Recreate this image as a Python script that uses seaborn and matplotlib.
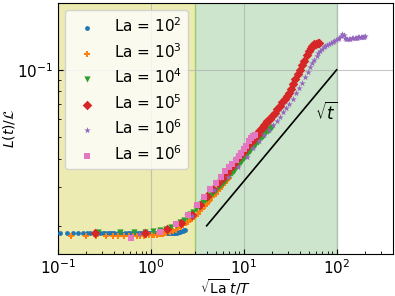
import numpy as np
import pandas as pd
import matplotlib
matplotlib.use("Agg")
import matplotlib.pyplot as plt
import seaborn as sns
from matplotlib.ticker import NullFormatter

# ---------------- data ----------------
labels = [r'La = $10^2$', r'La = $10^3$', r'La = $10^4$',
          r'La = $10^5$', r'La = $10^6$', r'La = $10^6$']

t_la2 = [0.105, 0.125, 0.145, 0.165, 0.185, 0.205, 0.225, 0.245, 0.265, 0.285,
         0.305, 0.325, 0.345, 0.365, 0.385, 0.405, 0.445, 0.485, 0.525, 0.565,
         0.605, 0.645, 0.685, 0.725, 0.765, 0.805, 0.845, 0.885, 0.925, 0.965,
         1.005, 1.065, 1.125, 1.185, 1.245, 1.305, 1.365, 1.425, 1.485, 1.545,
         1.605, 1.665, 1.725, 1.785, 1.845, 1.905, 1.965, 2.025, 2.085, 2.145,
         2.205, 2.265, 2.325]
L_la2 = [0.0185, 0.0185, 0.0185, 0.0185, 0.0185, 0.0185, 0.0185, 0.0185, 0.0185, 0.0185,
         0.0185, 0.0185, 0.0185, 0.0185, 0.0185, 0.0185, 0.0185, 0.0185, 0.0185, 0.0185,
         0.0185, 0.0185, 0.0185, 0.0185, 0.0185, 0.0185, 0.0185, 0.0185, 0.0185, 0.0185,
         0.0185, 0.0185, 0.0185, 0.0185, 0.0185, 0.0185, 0.0185, 0.0185, 0.0185, 0.0185,
         0.0185, 0.0185, 0.0185, 0.0186, 0.0186, 0.0186, 0.0187, 0.0187, 0.0188, 0.0189,
         0.0190, 0.0191, 0.0192]

t_la3 = [0.14, 0.20, 0.26, 0.33, 0.39, 0.45, 0.52, 0.58, 0.64, 0.71,
         0.77, 0.84, 0.90, 0.96, 1.03, 1.09, 1.16, 1.22, 1.28, 1.35,
         1.41, 1.48, 1.60, 1.73, 1.86, 1.99, 2.12, 2.25, 2.38, 2.50,
         2.63, 2.76, 2.89, 3.02, 3.20, 3.40, 3.60, 3.80, 4.00, 4.20,
         4.40, 4.60, 4.80, 5.00, 5.25, 5.50, 5.75, 6.00, 6.25, 6.50,
         6.75, 7.00]
L_la3 = [0.0180, 0.0180, 0.0180, 0.0180, 0.0180, 0.0180, 0.0180, 0.0180, 0.0180, 0.0180,
         0.0180, 0.0180, 0.0181, 0.0181, 0.0181, 0.0182, 0.0182, 0.0183, 0.0183, 0.0184,
         0.0185, 0.0186, 0.0188, 0.0190, 0.0192, 0.0195, 0.0198, 0.0201, 0.0205, 0.0208,
         0.0212, 0.0215, 0.0219, 0.0222, 0.0227, 0.0233, 0.0239, 0.0245, 0.0251, 0.0257,
         0.0262, 0.0268, 0.0274, 0.0279, 0.0286, 0.0292, 0.0299, 0.0305, 0.0311, 0.0317,
         0.0323, 0.0329]

t_la4 = [0.27, 0.47, 0.67, 0.87, 1.07, 1.27, 1.47, 1.67, 1.87, 2.07,
         2.27, 2.47, 2.67, 2.87, 3.07, 3.27, 3.47, 3.67, 3.87, 4.07,
         4.27, 4.47, 4.67, 4.87, 5.07, 5.40, 5.70, 6.00, 6.30, 6.60,
         6.90, 7.20, 7.50, 7.80, 8.10, 8.50, 8.90, 9.30, 9.70, 10.1,
         10.6, 11.1, 11.6, 12.1, 12.6, 13.1, 13.6, 14.1, 14.6, 15.1,
         15.6, 16.1, 16.6, 17.1, 17.6, 18.1, 18.6, 19.1, 19.6, 20.1]
L_la4 = [0.0187, 0.0187, 0.0187, 0.0188, 0.0189, 0.0191, 0.0194, 0.0197, 0.0202, 0.0207,
         0.0213, 0.0219, 0.0225, 0.0231, 0.0238, 0.0244, 0.0250, 0.0255, 0.0260, 0.0265,
         0.0270, 0.0275, 0.0280, 0.0285, 0.0290, 0.0297, 0.0305, 0.0312, 0.0319, 0.0326,
         0.0333, 0.0340, 0.0346, 0.0353, 0.0360, 0.0369, 0.0378, 0.0387, 0.0396, 0.0404,
         0.0414, 0.0424, 0.0433, 0.0442, 0.0451, 0.0460, 0.0468, 0.0477, 0.0485, 0.0493,
         0.0500, 0.0507, 0.0513, 0.0519, 0.0524, 0.0530, 0.0536, 0.0543, 0.0550, 0.0557]

t_la5 = [0.25, 0.88, 1.51, 2.14, 2.77, 3.40, 4.03, 4.66, 5.30, 5.93,
         6.56, 7.19, 7.82, 8.45, 9.08, 9.72, 10.35, 10.98, 11.61, 12.24,
         12.87, 13.5, 14.14, 14.77, 15.4, 16.03, 16.66, 17.3, 18.0, 19.0,
         20.0, 21.5, 23.0, 24.5, 26.0, 27.5, 29.0, 30.5, 32.0, 34.0,
         36.0, 38.0, 40.0, 42.5, 45.0, 47.5, 50.0, 52.5, 55.0, 57.5,
         60.0, 62.5, 64.5]
L_la5 = [0.0186, 0.0186, 0.0193, 0.0206, 0.0224, 0.0248, 0.0272, 0.0292, 0.0310, 0.0328,
         0.0346, 0.0362, 0.0378, 0.0398, 0.0415, 0.0430, 0.0444, 0.0456, 0.0468, 0.0480,
         0.0492, 0.0505, 0.0518, 0.0530, 0.0542, 0.0554, 0.0566, 0.0578, 0.0590, 0.0605,
         0.0620, 0.0640, 0.0665, 0.0690, 0.0715, 0.0740, 0.0765, 0.0790, 0.0820, 0.0865,
         0.0910, 0.0955, 0.1000, 0.1050, 0.1100, 0.1160, 0.1210, 0.1250, 0.1280, 0.1300,
         0.1310, 0.1320, 0.1320]

t_la6 = [0.75, 2.75, 4.75, 6.75, 8.75, 10.75, 12.75, 14.75, 16.75, 18.75,
         20.75, 22.75, 24.75, 26.75, 28.75, 30.75, 33.75, 36.75, 39.75, 42.75,
         45.75, 48.75, 51.75, 54.75, 57.75, 60.75, 63.75, 66.75, 69.75, 72.75,
         75.75, 78.75, 82.75, 86.75, 90.75, 94.75, 98.75, 102.75, 106.75, 110.75,
         114.75, 118.75, 122.75, 126.75, 130.75, 135.75, 140.75, 145.75, 150.75, 155.75,
         160.75, 165.75, 170.75, 175.75, 180.75, 185.75, 190.75, 195.75, 200.75]
L_la6 = [0.0184, 0.0222, 0.0288, 0.0330, 0.0368, 0.0408, 0.0445, 0.0480, 0.0510, 0.0538,
         0.0565, 0.0590, 0.0616, 0.0645, 0.0672, 0.0700, 0.0740, 0.0785, 0.0830, 0.0875,
         0.0925, 0.0975, 0.1025, 0.1070, 0.1110, 0.1150, 0.1185, 0.1215, 0.1240, 0.1260,
         0.1275, 0.1290, 0.1305, 0.1320, 0.1335, 0.1350, 0.1365, 0.1380, 0.1395, 0.1415,
         0.1440, 0.1430, 0.1395, 0.1375, 0.1372, 0.1375, 0.1380, 0.1385, 0.1388, 0.1390,
         0.1392, 0.1395, 0.1398, 0.1400, 0.1402, 0.1405, 0.1408, 0.1410, 0.1412]

t_la6b = [0.62, 1.25, 1.88, 2.51, 3.14, 3.77, 4.40, 5.03, 5.66, 6.29,
          6.92, 7.55, 8.18, 8.81, 9.44, 10.07, 10.7, 11.33, 11.96, 12.59, 13.2]
L_la6b = [0.0177, 0.0188, 0.0203, 0.0224, 0.0248, 0.0270, 0.0293, 0.0312, 0.0330, 0.0351,
          0.0365, 0.0380, 0.0395, 0.0410, 0.0425, 0.0440, 0.0458, 0.0481, 0.0495, 0.0504, 0.0512]

guide_t = [4, 100]
guide_L = [0.02, 0.1]

regime_edges = [0.1, 3, 100]

# ---------------- figure ----------------
fig, ax = plt.subplots(figsize=(3.95, 2.96), dpi=100)
fig.subplots_adjust(left=0.146, right=0.994, top=0.991, bottom=0.143)

ax.axvspan(regime_edges[0], regime_edges[1], color='y', alpha=0.3, zorder=0)
ax.axvspan(regime_edges[1], regime_edges[2], color='g', alpha=0.2, zorder=0)

pal = sns.color_palette('tab10')
series = [
    (t_la2, L_la2, 'o', 12, pal[0]),
    (t_la3, L_la3, 'P', 18, pal[1]),
    (t_la4, L_la4, 'v', 20, pal[2]),
    (t_la5, L_la5, 'D', 24, pal[3]),
    (t_la6, L_la6, '*', 24, pal[4]),
    (t_la6b, L_la6b, 's', 20, pal[6]),
]
for (t, L, mk, s, col), lab in zip(series, labels):
    df = pd.DataFrame({'t': t, 'L': L})
    sns.scatterplot(data=df, x='t', y='L', ax=ax, marker=mk, s=s, color=col,
                    linewidth=0, label=lab, zorder=3)

ax.plot(guide_t, guide_L, color='k', lw=1.2, zorder=4)
ax.text(77, 0.064, r'$\sqrt{t}$', fontsize=12, ha='center', va='center')

ax.set_xscale('log')
ax.set_yscale('log')
ax.set_xlim(0.1, 400)
ax.set_ylim(0.015, 0.2)
ax.yaxis.set_minor_formatter(NullFormatter())
ax.grid(True, which='major', color='#b0b0b0', lw=0.8, alpha=0.7)
ax.tick_params(which='both', direction='in', labelsize=11)
ax.set_xlabel(r'$\sqrt{\mathrm{La}}\,t/T$', fontsize=10, labelpad=0)
ax.set_ylabel(r'$L(t)/\mathcal{L}$', fontsize=10, labelpad=0)

ax.legend(loc='upper left', fontsize=11, framealpha=0.8, labelspacing=0.45,
          handletextpad=0.8)

fig.savefig('out.png', dpi=100)
